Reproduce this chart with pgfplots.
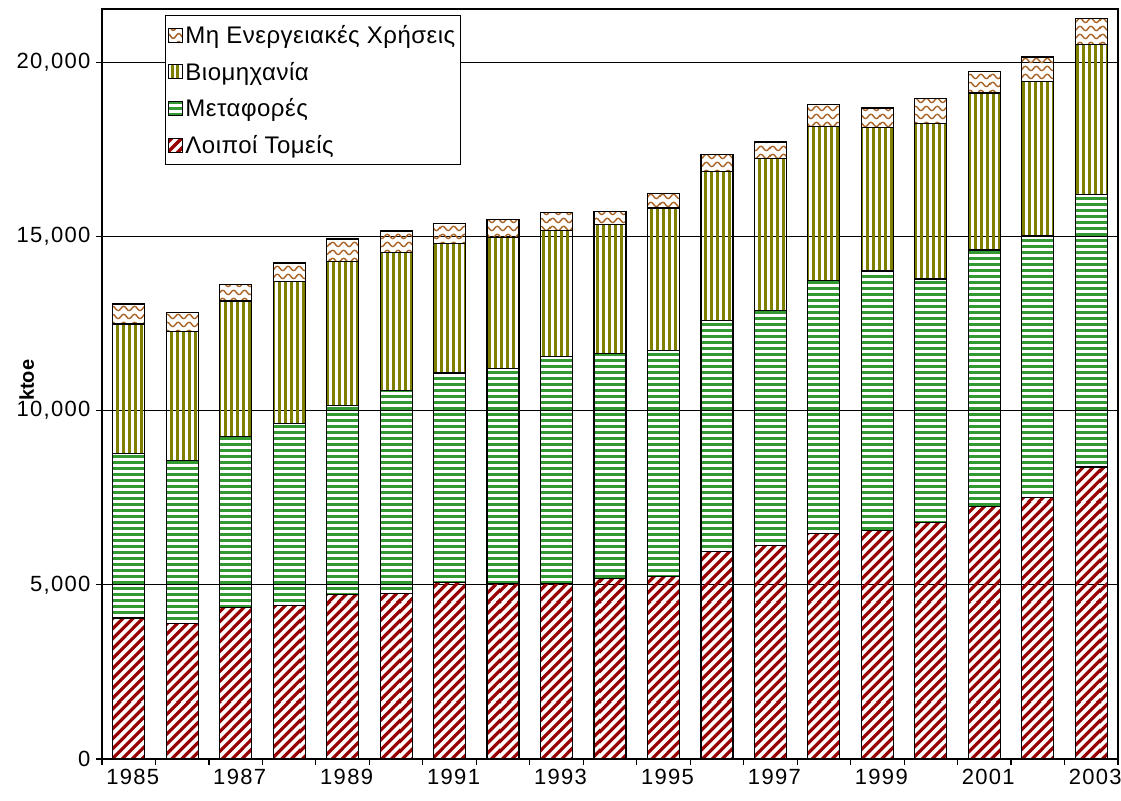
\documentclass[border=0pt]{standalone}
\usepackage{fontspec}
\setmainfont{Liberation Sans}
\usepackage{pgfplots}
\usepackage{pgfplotstable}
\pgfplotsset{compat=1.18}
\usetikzlibrary{patterns}

\definecolor{redS}{RGB}{150,0,0}
\definecolor{greenS}{RGB}{51,153,51}
\definecolor{oliveS}{RGB}{128,128,0}
\definecolor{brownS}{RGB}{170,100,40}

% horizontal lines (Metafores) - wide tile to avoid seams
\pgfdeclarepatternformonly{hlinesG}{\pgfpointorigin}{\pgfpoint{1200pt}{6pt}}{\pgfpoint{1200pt}{6pt}}{%
  \pgfpathrectangle{\pgfpoint{-1pt}{0pt}}{\pgfpoint{1202pt}{3.4pt}}\pgfusepath{fill}}
% vertical lines (Viomichania) - tall tile
\pgfdeclarepatternformonly{vlinesO}{\pgfpointorigin}{\pgfpoint{5.5pt}{900pt}}{\pgfpoint{5.5pt}{900pt}}{%
  \pgfpathrectangle{\pgfpoint{0pt}{-1pt}}{\pgfpoint{3.1pt}{902pt}}\pgfusepath{fill}}
% diagonal lines (Loipoi Tomeis) - large tile
\pgfdeclarepatternformonly{diagR}{\pgfpointorigin}{\pgfpoint{100pt}{100pt}}{\pgfpoint{100pt}{100pt}}{%
  \pgfsetlinewidth{3.2pt}%
  \foreach \k in {-11,...,11}{%
    \pgfpathmoveto{\pgfpoint{\k*10pt-3pt}{-3pt}}\pgfpathlineto{\pgfpoint{\k*10pt+103pt}{103pt}}%
  }%
  \pgfusepath{stroke}}
% waves (Mi energeiakes)
\pgfdeclarepatternformonly{wavesB}{\pgfpointorigin}{\pgfpoint{110pt}{8pt}}{\pgfpoint{110pt}{8pt}}{%
  \pgfsetlinewidth{1.5pt}%
  \pgfpathmoveto{\pgfpoint{-11pt}{4pt}}%
  \foreach \k in {-1,...,10}{%
    \pgfpathcurveto{\pgfpoint{\k*11pt+1.8pt}{7.2pt}}{\pgfpoint{\k*11pt+3.7pt}{7.2pt}}{\pgfpoint{\k*11pt+5.5pt}{4pt}}%
    \pgfpathcurveto{\pgfpoint{\k*11pt+7.3pt}{0.8pt}}{\pgfpoint{\k*11pt+9.2pt}{0.8pt}}{\pgfpoint{\k*11pt+11pt}{4pt}}%
  }%
  \pgfusepath{stroke}}

\pgfplotstableread{
x red green olive non
0  4050 4710 3730 570
1  3880 4680 3720 530
2  4340 4920 3890 460
3  4400 5220 4090 530
4  4720 5420 4150 640
5  4750 5840 3950 620
6  5070 6010 3720 580
7  5030 6170 3770 520
8  5040 6520 3620 500
9  5180 6450 3720 370
10 5250 6470 4100 420
11 5950 6630 4290 490
12 6120 6750 4360 480
13 6480 7260 4410 630
14 6550 7460 4120 560
15 6780 7000 4470 700
16 7260 7350 4510 620
17 7510 7520 4430 690
18 8380 7830 4310 730
}\datatable

\begin{document}
\begin{tikzpicture}[font=\fontsize{22}{26}\selectfont]
\path[use as bounding box] (0pt,0pt) rectangle (1121pt,-800pt);
\begin{axis}[
  at={(102pt,-759pt)}, anchor=south west,
  scale only axis, width=1016pt, height=750pt,
  ybar stacked, bar width=32pt,
  xmin=-0.5, xmax=18.5, ymin=0, ymax=21530,
  xtick={0,2,...,18},
  xticklabels={1985,1987,1989,1991,1993,1995,1997,1999,2001,2003},
  minor xtick={-0.5,0.5,...,18.5},
  ytick={0,5000,10000,15000,20000},
  scaled y ticks=false,
  /pgf/number format/1000 sep={,},
  /pgf/number format/assume math mode=true,
  tick label style={font=\fontsize{22}{26}\selectfont\addfontfeatures{LetterSpace=6}},
  xtick pos=bottom, ytick pos=left,
  tick align=outside,
  major tick length=6pt, minor tick length=6pt,
  major x tick style={draw=none},
  minor x tick style={black, line width=1.2pt},
  major y tick style={black, line width=1.2pt},
  ymajorgrids,
  major grid style={black, line width=1.2pt},
  axis line style={black, line width=1.2pt},
  xticklabel style={yshift=-1pt, xshift=4pt},
  yticklabel style={xshift=-2pt},
  ylabel={\bfseries ktoe},
  ylabel style={at={(axis description cs:-0.074,0.505)}, anchor=center, font=\fontsize{20}{24}\selectfont},
  legend style={at={(0.062,0.992)}, anchor=north west, draw=black, line width=1pt,
    inner xsep=3pt, inner ysep=8pt, row sep=13pt,
    font=\fontsize{24}{28}\selectfont\addfontfeatures{LetterSpace=2},
    nodes={inner sep=2pt}},
  legend cell align=left,
  reverse legend,
  legend image code/.code={\draw[#1, line width=1pt] (0pt,-7pt) rectangle (14pt,7pt);},
]
\addplot[pattern=diagR, pattern color=redS, draw=black, line width=1.2pt] table[x=x,y=red]{\datatable};
\addplot[pattern=hlinesG, pattern color=greenS, draw=black, line width=1.2pt] table[x=x,y=green]{\datatable};
\addplot[pattern=vlinesO, pattern color=oliveS, draw=black, line width=1.2pt] table[x=x,y=olive]{\datatable};
\addplot[pattern=wavesB, pattern color=brownS, draw=black, line width=1.2pt] table[x=x,y=non]{\datatable};
\legend{Λοιποί Τομείς, Μεταφορές, Βιομηχανία, Μη Ενεργειακές Χρήσεις}
\end{axis}
\end{tikzpicture}
\end{document}
